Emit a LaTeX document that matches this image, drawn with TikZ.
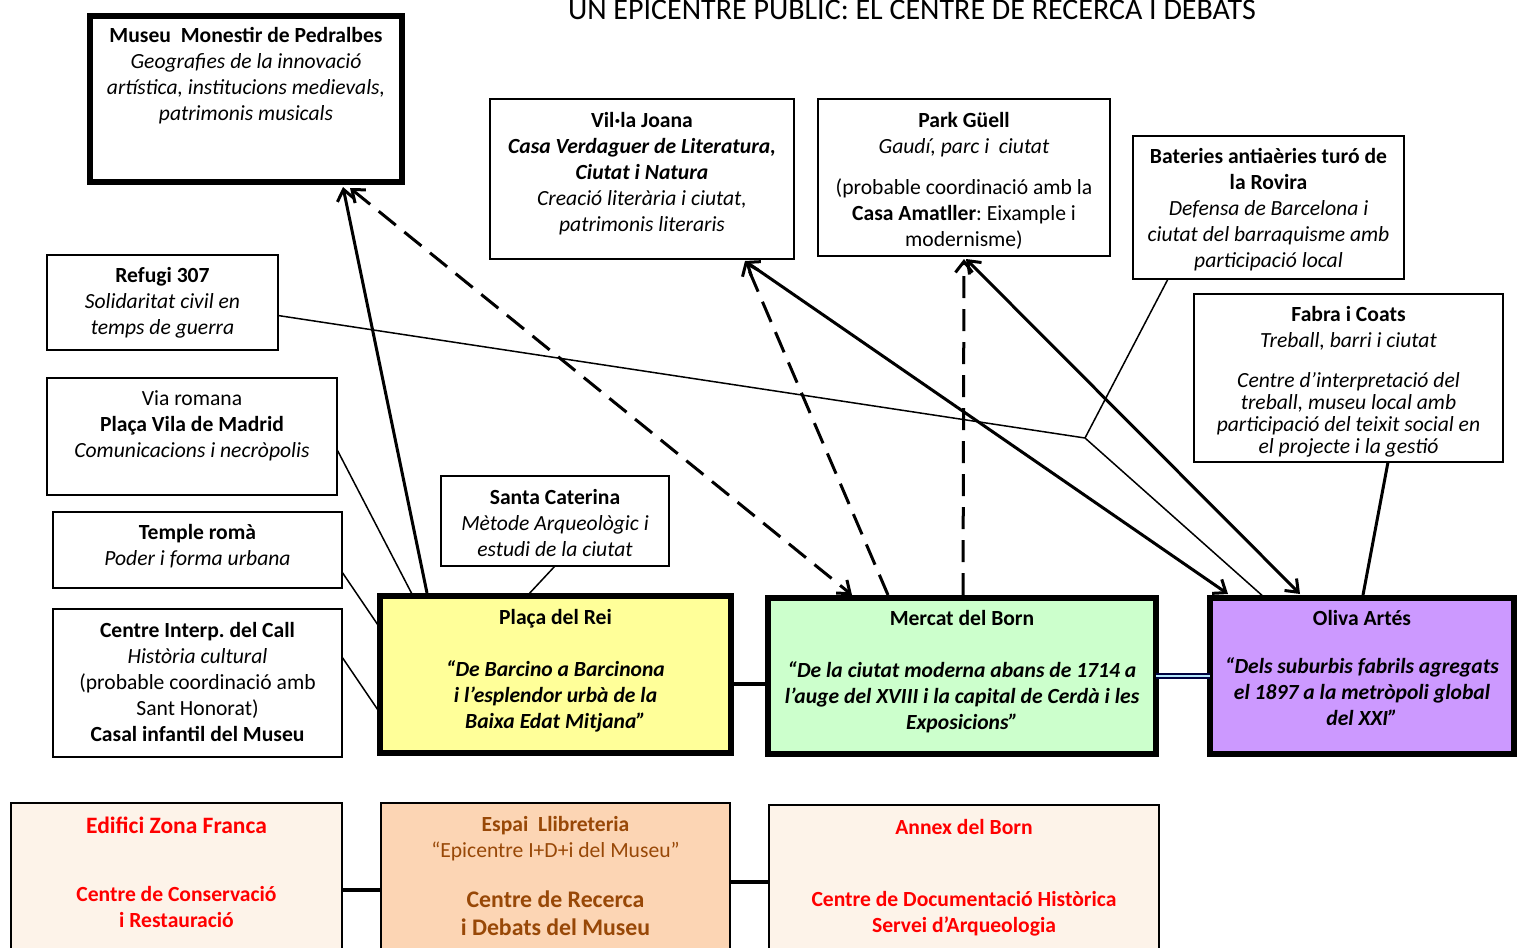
\documentclass[tikz,border=0pt]{standalone}
\usepackage{fontspec}
\setmainfont{Carlito}
\usetikzlibrary{arrows.meta}
\definecolor{reiY}{HTML}{FFFF99}
\definecolor{bornG}{HTML}{CCFFCC}
\definecolor{olivaP}{HTML}{CC99FF}
\definecolor{peachL}{HTML}{FDF3E9}
\definecolor{peachD}{HTML}{FCD5B4}
\definecolor{brownT}{HTML}{984807}
\definecolor{redT}{HTML}{FF0000}
\newcommand{\st}{\vrule height 18pt width 0pt depth 0pt}
\begin{document}
\frenchspacing
\begin{tikzpicture}[x=1pt,y=-1pt,
  thinbox/.style={draw=black, line width=2pt, rectangle, inner sep=0, outer sep=0},
  thickbox/.style={draw=black, line width=6pt, rectangle, inner sep=0, outer sep=0},
  botbox/.style={draw=black, line width=1.5pt, rectangle, inner sep=0, outer sep=0},
  txt/.style={anchor=north, align=center, inner sep=0, font=\fontsize{21.6}{26}\selectfont},
  arr/.style={line width=3pt, -{Straight Barb[length=11pt,width=17pt]}},
  darr/.style={line width=3pt, -{Straight Barb[length=11pt,width=17pt]}},
  dsh/.style={dash pattern=on 22pt off 11pt},
  thinln/.style={line width=1.5pt},
  link/.style={line width=4pt}
]
\useasboundingbox (0,0) rectangle (1522,947);
\clip (0,0) rectangle (1522,947);
\fill[white] (0,0) rectangle (1522,947);

% title
\node[font=\fontsize{30}{32}\selectfont, anchor=base, inner sep=0] (title) at (912,20) {UN EPICENTRE PUBLIC: EL CENTRE DE RECERCA I DEBATS};

% boxes
\node[thickbox, minimum width=312, minimum height=166] (ped) at (246,99) {};
\node[txt] (pedt) at (246,24) {\st\textbf{Museu\ \ Monestir de Pedralbes}\\ \textit{Geografies de la innovació}\\ \textit{artística, institucions medievals,}\\ \textit{patrimonis musicals}};

\node[thinbox, minimum width=304, minimum height=160] (vil) at (642,179) {};
\node[txt] (vilt) at (642,109) {\st\textbf{Vil·la Joana}\\ \textbf{\textit{Casa Verdaguer de Literatura,}}\\ \textbf{\textit{Ciutat i Natura}}\\ \textit{Creació literària i ciutat,}\\ \textit{patrimonis literaris}};

\node[thinbox, minimum width=292, minimum height=157] (park) at (964,177.5) {};
\node[txt] (parkt) at (964,109) {\st\textbf{Park Güell}\\ \textit{Gaudí, parc i\ \ ciutat}\\[15pt] (probable coordinació amb la\\ \textbf{Casa Amatller}: Eixample i\\ modernisme)};

\node[thinbox, minimum width=271, minimum height=143] (bat) at (1268.5,207.5) {};
\node[txt] (batt) at (1268.5,145) {\st\textbf{Bateries antiaèries turó de}\\ \textbf{la Rovira}\\ \textit{Defensa de Barcelona i}\\ \textit{ciutat del barraquisme amb}\\ \textit{participació local}};

\node[thinbox, minimum width=309, minimum height=168] (fab) at (1348.5,378) {};
\node[txt] (fabt) at (1348.5,303) {\st\textbf{Fabra i Coats}\\ \textit{Treball, barri i ciutat}\\[14pt] \textit{Centre d’interpretació del}\\[-4pt] \textit{treball, museu local amb}\\[-4pt] \textit{participació del teixit social en}\\[-4pt] \textit{el projecte i la gestió}};

\node[thinbox, minimum width=231, minimum height=95] (ref) at (162.5,302.5) {};
\node[txt] (reft) at (162.5,264) {\st\textbf{Refugi 307}\\ \textit{Solidaritat civil en}\\ \textit{temps de guerra}};

\node[thinbox, minimum width=290, minimum height=117] (via) at (192,436.5) {};
\node[txt] (viat) at (192,387) {\st Via romana\\ \textbf{Plaça Vila de Madrid}\\ \textit{Comunicacions i necròpolis}};

\node[thinbox, minimum width=289, minimum height=76] (tem) at (197.5,550) {};
\node[txt] (temt) at (197.5,521) {\st\textbf{Temple romà}\\ \textit{Poder i forma urbana}};

\node[thinbox, minimum width=289, minimum height=148] (call) at (197.5,683) {};
\node[txt] (callt) at (197.5,619) {\st\textbf{Centre Interp.\ del Call}\\ \textit{Història cultural}\\ (probable coordinació amb\\ Sant Honorat)\\ \textbf{Casal infantil del Museu}};

\node[thinbox, minimum width=228, minimum height=90] (sc) at (555,521) {};
\node[txt] (sct) at (555,486) {\st\textbf{Santa Caterina}\\ \textit{Mètode Arqueològic i}\\ \textit{estudi de la ciutat}};

\node[thickbox, fill=reiY, minimum width=351, minimum height=157] (rei) at (555.5,674.5) {};
\node[txt] (reit) at (555.5,606) {\st\textbf{Plaça del Rei}\\[26pt] \textbf{\textit{“De Barcino a Barcinona}}\\ \textbf{\textit{i l’esplendor urbà de la}}\\ \textbf{\textit{Baixa Edat Mitjana”}}};

\node[thickbox, fill=bornG, minimum width=388, minimum height=156] (born) at (962,676) {};
\node[txt] (bornt) at (962,607) {\st\textbf{Mercat del Born}\\[26pt] \textbf{\textit{“De la ciutat moderna abans de 1714 a}}\\ \textbf{\textit{l’auge del XVIII i la capital de Cerdà i les}}\\ \textbf{\textit{Exposicions”}}};

\node[thickbox, fill=olivaP, minimum width=304, minimum height=156] (oliva) at (1362,676) {};
\node[txt] (olivat) at (1362,607) {\st\textbf{Oliva Artés}\\[22pt] \textbf{\textit{“Dels suburbis fabrils agregats}}\\ \textbf{\textit{el 1897 a la metròpoli global}}\\ \textbf{\textit{del XXI”}}};

% bottom boxes
\node[botbox, fill=peachL, minimum width=331, minimum height=167] (zf) at (176.5,886.5) {};
\node[txt, text=redT, font=\fontsize{23.5}{26}\selectfont] (zft) at (176.5,815) {\st\textbf{Edifici Zona Franca}};
\node[txt, text=redT] (zfb) at (176.5,883) {\st\textbf{Centre de Conservació}\\ \textbf{i Restauració}};

\node[botbox, fill=peachD, minimum width=349, minimum height=167] (llib) at (555.5,886.5) {};
\node[txt, text=brownT] (llibt) at (555.5,813) {\st\textbf{Espai\ \ Llibreteria}\\ “Epicentre I+D+i del Museu”};
\node[txt, text=brownT, font=\fontsize{23.8}{28}\selectfont] (llibb) at (555.5,888) {\vrule height 19pt width 0pt\textbf{Centre de Recerca}\\ \textbf{i Debats del Museu}};

\node[botbox, fill=peachL, minimum width=390, minimum height=165] (annex) at (964,887.5) {};
\node[txt, text=redT] (annext) at (964,816) {\st\textbf{Annex del Born}\\[46pt] \textbf{Centre de Documentació Històrica}\\ \textbf{Servei d’Arqueologia}};

% connectors
\coordinate (J) at (1085,438);
\draw[thinln] ([yshift=-13pt]ref.east) -- (J);
\draw[thinln] ([xshift=35pt]bat.south west) -- (J);
\draw[thinln] (J) -- ([xshift=55pt]oliva.north west);

\draw[thinln] ([yshift=-13pt]via.east) -- ([xshift=33pt]rei.north west);
\draw[thinln] ([yshift=-22pt]tem.east) -- ([yshift=-32pt]rei.north west);
\draw[thinln] ([yshift=26pt]call.east) -- ([yshift=-117pt]rei.north west);
\draw[thinln] (sc.south) -- ([xshift=147pt]rei.north west);

\draw[arr] ([xshift=47pt,yshift=3pt]rei.north west) -- ([xshift=253pt,yshift=-5pt]ped.south west);
\draw[darr,dsh,{Straight Barb[length=11pt,width=17pt]}-{Straight Barb[length=11pt,width=17pt]}] ([xshift=260pt,yshift=-6pt]ped.south west) -- ([xshift=84pt,yshift=3pt]born.north west);
\draw[darr,dsh] ([xshift=120pt,yshift=3pt]born.north west) -- ([xshift=255pt,yshift=-2pt]vil.south west);
\draw[darr,dsh] ([xshift=1pt,yshift=3pt]born.north) -- ([yshift=-3pt]park.south);
\draw[arr,{Straight Barb[length=11pt,width=17pt]}-{Straight Barb[length=11pt,width=17pt]}] ([xshift=18pt,yshift=4pt]oliva.north west) -- ([xshift=255pt,yshift=-2pt]vil.south west);
\draw[arr,{Straight Barb[length=11pt,width=17pt]}-{Straight Barb[length=11pt,width=17pt]}] ([xshift=2pt,yshift=-3pt]park.south) -- ([xshift=90pt,yshift=4pt]oliva.north west);
\draw[line width=3pt] ([xshift=194pt]fab.south west) -- ([xshift=153pt,yshift=3pt]oliva.north west);

\draw[link] ([yshift=-9.5pt]rei.east) -- ([yshift=-8pt]born.west);
\draw[line width=1.8pt, draw=black!75!blue, double=cyan!30!white, double distance=1.5pt] (born.east) -- (oliva.west);
\draw[link] ([yshift=-3.5pt]zf.east) -- ([yshift=-3.5pt]llib.west);
\draw[link] ([yshift=4.5pt]llib.east) -- ([yshift=5.5pt]annex.west);
\end{tikzpicture}
\end{document}
